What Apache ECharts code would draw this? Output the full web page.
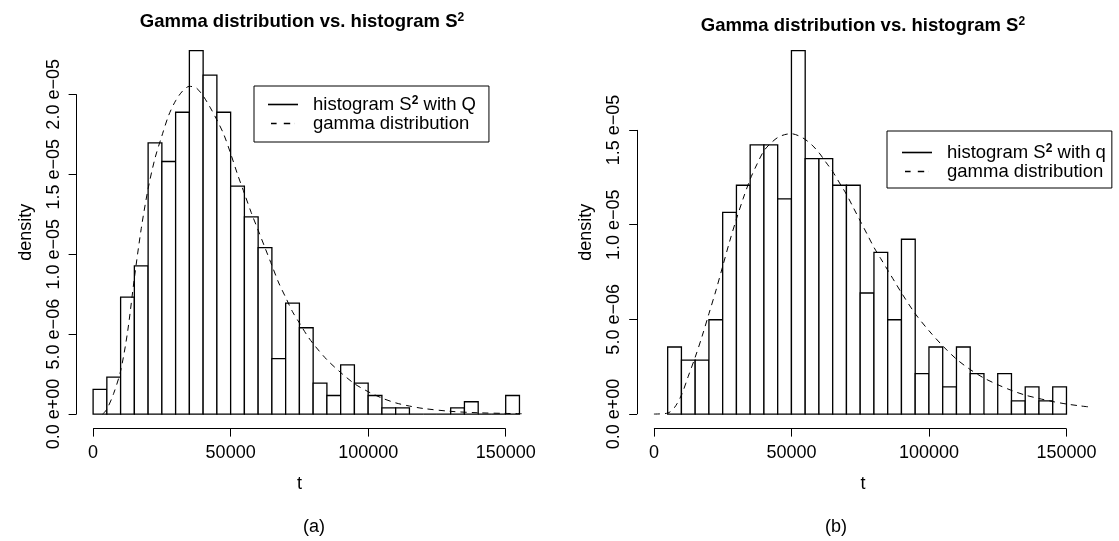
<!DOCTYPE html>
<html>
<head>
<meta charset="utf-8">
<script src="https://cdn.jsdelivr.net/npm/echarts@6/dist/echarts.min.js"></script>
<style>
  html, body { margin: 0; padding: 0; background: #fff; }
  #main { width: 1119px; height: 541px; }
</style>
</head>
<body>
<div id="main"></div>
<script>
// ---- panel (a): histogram S^2 with Q, densities in units of 1e-6 ----
var edgesA = [0, 5000, 10000, 15000, 20000, 25000, 30000, 35000, 40000, 45000, 50000,
  55000, 60000, 65000, 70000, 75000, 80000, 85000, 90000, 95000, 100000,
  105000, 110000, 115000, 120000, 125000, 130000, 135000, 140000, 145000, 150000, 155000];
var densA = [1.54, 2.31, 7.32, 9.27, 16.96, 15.80, 18.88, 22.74, 21.20, 18.88,
  14.26, 12.33, 10.41, 3.47, 6.94, 5.40, 1.93, 1.16, 3.08, 1.93,
  1.16, 0.39, 0.39, 0, 0, 0, 0.39, 0.77, 0, 0, 1.16];
var gammaTA = [3500, 5000, 7500, 10000, 12500, 15000, 17500, 20000, 22500, 25000, 27500,
  30000, 32500, 35000, 37500, 40000, 42500, 45000, 47500, 50000, 52500, 55000,
  57500, 60000, 62500, 65000, 67500, 70000, 72500, 75000, 77500, 80000, 85000,
  90000, 95000, 100000, 105000, 110000, 115000, 120000, 130000, 140000, 150000, 156000];
var gammaVA = [0, 0.3, 1.3, 2.7, 5.1, 8.5, 11.6, 14.1, 16.0, 17.4, 18.7,
  19.6, 20.2, 20.5, 20.4, 19.9, 19.2, 18.4, 17.5, 16.3, 15.0, 13.8,
  12.6, 11.5, 10.4, 9.3, 8.2, 7.3, 6.4, 5.7, 5.0, 4.4, 3.4,
  2.6, 1.9, 1.4, 1.0, 0.7, 0.5, 0.35, 0.17, 0.08, 0.04, 0.02];

// ---- panel (b): histogram S^2 with q ----
var edgesB = [5000, 10000, 15000, 20000, 25000, 30000, 35000, 40000, 45000, 50000,
  55000, 60000, 65000, 70000, 75000, 80000, 85000, 90000, 95000, 100000,
  105000, 110000, 115000, 120000, 125000, 130000, 135000, 140000, 145000, 150000];
var densB = [3.54, 2.85, 2.85, 4.98, 10.65, 12.08, 14.21, 14.21, 11.36, 19.19,
  13.49, 13.49, 12.08, 12.08, 6.39, 8.54, 4.98, 9.23, 2.13, 3.54,
  1.43, 3.54, 2.13, 0, 2.13, 0.70, 1.43, 0.70, 1.43];
var gammaTB = [0, 5000, 7500, 10000, 12500, 15000, 17500, 20000, 22500, 25000, 27500,
  30000, 32500, 35000, 37500, 40000, 42500, 45000, 47500, 50000, 52500, 55000,
  57500, 60000, 62500, 65000, 67500, 70000, 72500, 75000, 77500, 80000, 82500,
  85000, 87500, 90000, 95000, 100000, 105000, 110000, 115000, 120000, 125000,
  130000, 135000, 140000, 145000, 150000, 155000, 158000];
var gammaVB = [0, 0.05, 0.35, 1.0, 2.0, 3.0, 4.1, 5.3, 6.5, 7.8, 9.1,
  10.3, 11.4, 12.4, 13.2, 13.9, 14.3, 14.6, 14.75, 14.8, 14.7, 14.5,
  14.2, 13.8, 13.3, 12.8, 12.2, 11.6, 10.9, 10.2, 9.5, 8.8, 8.2,
  7.6, 7.0, 6.4, 5.3, 4.4, 3.6, 2.9, 2.35, 1.9, 1.55,
  1.25, 1.0, 0.82, 0.66, 0.53, 0.43, 0.38];

// ---- tick labels ----
var xTicks = [0, 50000, 100000, 150000];
var yTicksA = [0, 5, 10, 15, 20];
var yLabelsA = ['0.0 e+00', '5.0 e\u221206', '1.0 e\u221205', '1.5 e\u221205', '2.0 e\u221205'];
var yTicksB = [0, 5, 10, 15];
var yLabelsB = ['0.0 e+00', '5.0 e\u221206', '1.0 e\u221205', '1.5 e\u221205'];

var FONT = '"Liberation Sans", Arial, Helvetica, sans-serif';

function histData(edges, dens) {
  return dens.map(function (d, i) { return [edges[i], edges[i + 1], d]; });
}
function pairs(xs, ys) {
  return xs.map(function (x, i) { return [x, ys[i]]; });
}

function renderBin(params, api) {
  var top = api.coord([api.value(0), api.value(2)]);
  var bottom = api.coord([api.value(1), 0]);
  return {
    type: 'rect',
    shape: { x: top[0], y: top[1], width: bottom[0] - top[0], height: bottom[1] - top[1] },
    style: { fill: '#fff', stroke: '#000', lineWidth: 1.3 }
  };
}

function xAxisOpt(idx, min, max) {
  return {
    type: 'value', gridIndex: idx, min: min, max: max,
    name: 't', nameLocation: 'middle', nameGap: 46, nameMoveOverlap: false,
    nameTextStyle: { fontFamily: FONT, fontSize: 18, color: '#000' },
    axisLine: { show: false, onZero: false },
    axisTick: { show: true, customValues: xTicks, length: 8, lineStyle: { color: '#000', width: 1 } },
    axisLabel: {
      customValues: xTicks, margin: 15, fontFamily: FONT, fontSize: 18, color: '#000',
      formatter: function (v) { return String(v); }
    },
    splitLine: { show: false }
  };
}
function yAxisOpt(idx, min, max, ticks, labels) {
  return {
    type: 'value', gridIndex: idx, min: min, max: max,
    name: 'density', nameLocation: 'middle', nameGap: 42, nameRotate: 90, nameMoveOverlap: false,
    nameTextStyle: { fontFamily: FONT, fontSize: 18, color: '#000' },
    axisLine: { show: false, onZero: false },
    axisTick: { show: true, customValues: ticks, length: 8, lineStyle: { color: '#000', width: 1 } },
    axisLabel: {
      customValues: ticks, rotate: 90, margin: 14, fontFamily: FONT, fontSize: 18, color: '#000',
      formatter: function (v) { return labels[ticks.indexOf(v)]; }
    },
    splitLine: { show: false }
  };
}

function legendOpt(left, top, names, padding) {
  return {
    orient: 'vertical', left: left, top: top, padding: padding,
    itemWidth: 30, itemHeight: 1.6, itemGap: 0,
    borderColor: '#000', borderWidth: 1, borderRadius: 0,
    selectedMode: false,
    data: [
      { name: names[0], icon: 'rect' },
      { name: 'gamma distribution', icon: 'path://M0,0H7V2H0ZM16,0H24V2H16ZM29.9,0H30V2H29.9Z' }
    ],
    itemStyle: { color: '#000', borderWidth: 0 },
    formatter: function (n) {
      return n.indexOf('S2') >= 0 ? '{a|' + n.replace('S2', 'S}{s|2}{a|') + '}' : '{a|' + n + '}';
    },
    textStyle: {
      padding: [0, 0, 0, 10],
      rich: {
        a: { fontFamily: FONT, fontSize: 18.5, lineHeight: 19, color: '#000' },
        s: { fontFamily: FONT, fontSize: 12, fontWeight: 'bold', lineHeight: 19, verticalAlign: 'top', color: '#000' }
      }
    }
  };
}

function titleText(x, y) {
  return {
    type: 'text', x: x, y: y, silent: true,
    style: {
      text: '{m|Gamma distribution vs. histogram S}{s|2}',
      align: 'center', verticalAlign: 'middle',
      rich: {
        m: { fontFamily: FONT, fontSize: 18.5, fontWeight: 'bold', lineHeight: 20, fill: '#000' },
        s: { fontFamily: FONT, fontSize: 12, fontWeight: 'bold', lineHeight: 20, verticalAlign: 'top', fill: '#000' }
      }
    }
  };
}
function plainText(x, y, str) {
  return {
    type: 'text', x: x, y: y, silent: true,
    style: { text: str, align: 'center', verticalAlign: 'middle', fontFamily: FONT, fontSize: 18, fill: '#000' }
  };
}

function axisFrame(xMin, yMin, yTop) {
  return {
    silent: true, symbol: 'none', animation: false,
    label: { show: false },
    lineStyle: { color: '#000', width: 1, type: 'solid' },
    data: [
      [{ coord: [xTicks[0], yMin] }, { coord: [xTicks[xTicks.length - 1], yMin] }],
      [{ coord: [xMin, 0] }, { coord: [xMin, yTop] }]
    ]
  };
}

var chart = echarts.init(document.getElementById('main'), null, { renderer: 'canvas' });
chart.setOption({
  animation: false,
  backgroundColor: '#fff',
  grid: [
    { left: 76.6, top: 36, width: 445.6, height: 392.6, outerBoundsMode: 'none' },
    { left: 637.2, top: 36, width: 451.5, height: 392.6, outerBoundsMode: 'none' }
  ],
  xAxis: [xAxisOpt(0, -6000, 156000), xAxisOpt(1, -6080, 158080)],
  yAxis: [yAxisOpt(0, -0.91, 23.65, yTicksA, yLabelsA), yAxisOpt(1, -0.768, 19.96, yTicksB, yLabelsB)],
  legend: [
    legendOpt(254, 86, ['histogram S2 with Q'], [9, 13, 9, 14]),
    legendOpt(887, 131, ['histogram S2 with q'], [12, 6, 7, 15])
  ],
  graphic: [
    titleText(302, 22),
    titleText(862.9, 26),
    plainText(314, 527, '(a)'),
    plainText(836, 527, '(b)')
  ],
  series: [
    {
      type: 'custom', name: 'histogram S2 with Q', xAxisIndex: 0, yAxisIndex: 0,
      renderItem: renderBin, encode: { x: [0, 1], y: 2 },
      data: histData(edgesA, densA), z: 2
    },
    {
      type: 'line', name: 'gamma distribution', xAxisIndex: 0, yAxisIndex: 0,
      data: pairs(gammaTA, gammaVA), smooth: 0.3, symbol: 'none', z: 3,
      lineStyle: { color: '#000', width: 1, type: [6, 5] },
      markLine: axisFrame(-6000, -0.91, 20)
    },
    {
      type: 'custom', name: 'histogram S2 with q', xAxisIndex: 1, yAxisIndex: 1,
      renderItem: renderBin, encode: { x: [0, 1], y: 2 },
      data: histData(edgesB, densB), z: 2
    },
    {
      type: 'line', name: 'gamma distribution', xAxisIndex: 1, yAxisIndex: 1,
      data: pairs(gammaTB, gammaVB), smooth: 0.3, symbol: 'none', z: 3,
      lineStyle: { color: '#000', width: 1, type: [6, 5] },
      markLine: axisFrame(-6080, -0.768, 15)
    }
  ]
});
</script>
</body>
</html>
